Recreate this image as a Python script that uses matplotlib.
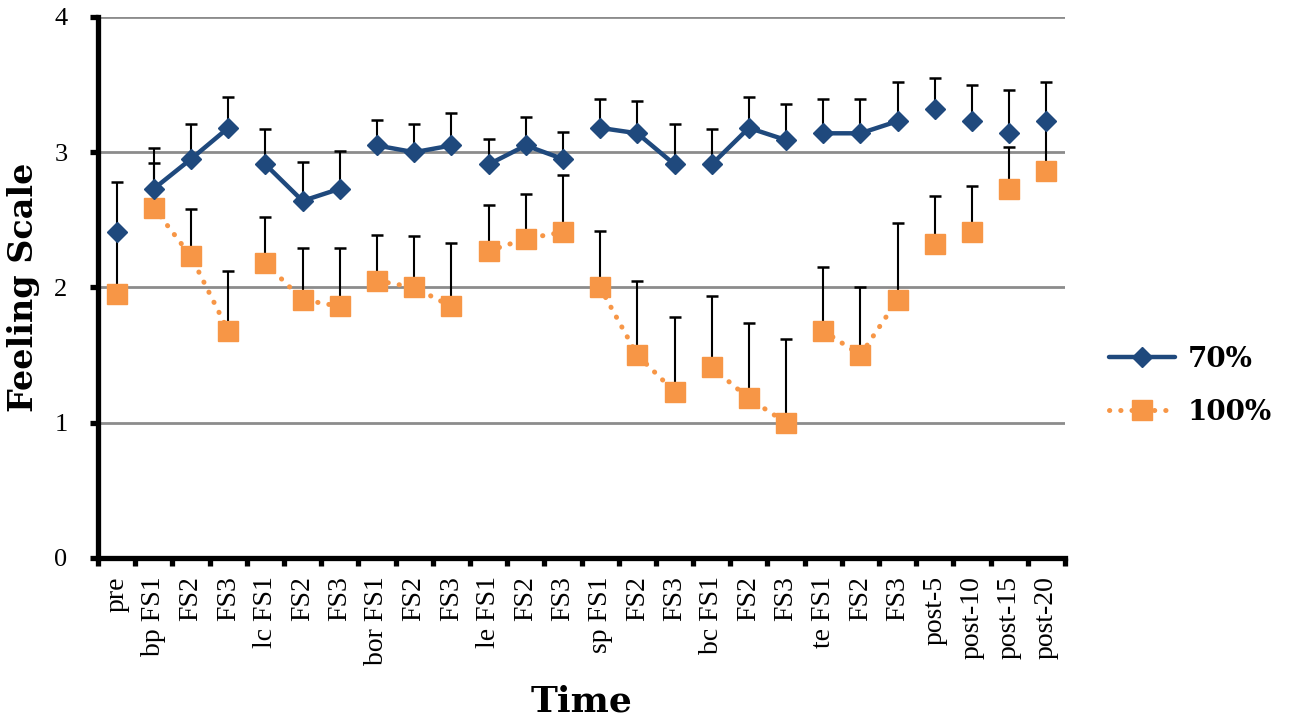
import numpy as np
import matplotlib.pyplot as plt
from matplotlib.lines import Line2D

labels = ["pre", "bp FS1", "FS2", "FS3", "lc FS1", "FS2", "FS3", "bor FS1", "FS2", "FS3",
          "le FS1", "FS2", "FS3", "sp FS1", "FS2", "FS3", "bc FS1", "FS2", "FS3",
          "te FS1", "FS2", "FS3", "post-5", "post-10", "post-15", "post-20"]
# which points are joined by a line
groups = ["pre", "bp", "bp", "bp", "lc", "lc", "lc", "bor", "bor", "bor",
          "le", "le", "le", "sp", "sp", "sp", "bc", "bc", "bc",
          "te", "te", "te", "p5", "p10", "p15", "p20"]

mean70 = [2.41, 2.73, 2.95, 3.18, 2.91, 2.64, 2.73, 3.05, 3.00, 3.05,
          2.91, 3.05, 2.95, 3.18, 3.14, 2.91, 2.91, 3.18, 3.09,
          3.14, 3.14, 3.23, 3.32, 3.23, 3.14, 3.23]
err70 = [0.37, 0.30, 0.26, 0.23, 0.26, 0.29, 0.28, 0.19, 0.21, 0.24,
         0.19, 0.21, 0.20, 0.21, 0.24, 0.30, 0.26, 0.23, 0.27,
         0.25, 0.25, 0.29, 0.23, 0.27, 0.32, 0.29]

mean100 = [1.95, 2.59, 2.23, 1.68, 2.18, 1.91, 1.86, 2.05, 2.00, 1.86,
           2.27, 2.36, 2.41, 2.00, 1.50, 1.23, 1.41, 1.18, 1.00,
           1.68, 1.50, 1.91, 2.32, 2.41, 2.73, 2.86]
err100 = [0.45, 0.33, 0.35, 0.44, 0.34, 0.38, 0.43, 0.34, 0.38, 0.47,
          0.34, 0.33, 0.42, 0.42, 0.55, 0.55, 0.53, 0.56, 0.62,
          0.47, 0.50, 0.57, 0.36, 0.34, 0.31, 0.35]

blue = "#1F497D"
orange = "#F79646"
dots = (0, (0.05, 2.2))

fig = plt.figure(figsize=(12.9, 7.17), dpi=100)
ax = fig.add_axes([0.076, 0.2218, 0.7496, 0.7545])

x = np.arange(len(labels))
m70 = np.array(mean70)
m100 = np.array(mean100)
zeros = np.zeros(len(x))

ax.yaxis.grid(True, color="#8c8c8c", lw=2, zorder=0)
ax.set_axisbelow(True)

ax.errorbar(x, m100, yerr=[zeros, err100], fmt="none", ecolor="black",
            elinewidth=1.5, capsize=4.5, capthick=1.8, zorder=2)
ax.errorbar(x, m70, yerr=[zeros, err70], fmt="none", ecolor="black",
            elinewidth=1.5, capsize=4.5, capthick=1.8, zorder=4)

g = np.array(groups)
for name in dict.fromkeys(groups):
    idx = np.where(g == name)[0]
    ax.plot(x[idx], m100[idx], color=orange, lw=3.6, linestyle=dots,
            dash_capstyle="round", marker="s", ms=14, mfc=orange, mec=orange, zorder=3)
    ax.plot(x[idx], m70[idx], color=blue, lw=3.2, marker="D", ms=10,
            mfc=blue, mec=blue, solid_capstyle="round", zorder=5)

ax.set_xlim(-0.5, len(labels) - 0.5)
ax.set_ylim(0, 4)
ax.set_yticks([0, 1, 2, 3, 4])

ax.set_xticks(np.arange(-0.5, len(labels), 1.0))
ax.set_xticklabels([])
ax.set_xticks(x, minor=True)
ax.set_xticklabels(labels, minor=True, rotation=90, fontsize=20, family="Liberation Serif")
ax.tick_params(axis="x", which="minor", length=0, pad=13)
ax.tick_params(axis="x", which="major", direction="out", length=6, width=3.8)
ax.tick_params(axis="y", direction="out", length=6, width=3.8, pad=16, labelsize=19)
for t in ax.get_yticklabels():
    t.set_family("Liberation Serif")

for s in ["top", "right"]:
    ax.spines[s].set_visible(False)
ax.spines["left"].set_linewidth(3.8)
ax.spines["bottom"].set_linewidth(3.8)

ax.set_xlabel("Time", fontsize=26, fontweight="bold", family="DejaVu Serif", labelpad=14)
ax.set_ylabel("Feeling Scale", fontsize=24, fontweight="bold", family="DejaVu Serif", labelpad=10)

handles = [
    Line2D([], [], color=blue, lw=3.2, marker="D", ms=10, solid_capstyle="round"),
    Line2D([], [], color=orange, lw=3.6, linestyle=dots, dash_capstyle="round",
           marker="s", ms=14),
]
fig.legend(handles, ["70%", "100%"], loc="center left", bbox_to_anchor=(0.84, 0.462),
           frameon=False, handlelength=2.4, labelspacing=0.95, handletextpad=0.45,
           prop={"family": "DejaVu Serif", "weight": "bold", "size": 20})

fig.savefig("out.png", dpi=100)
